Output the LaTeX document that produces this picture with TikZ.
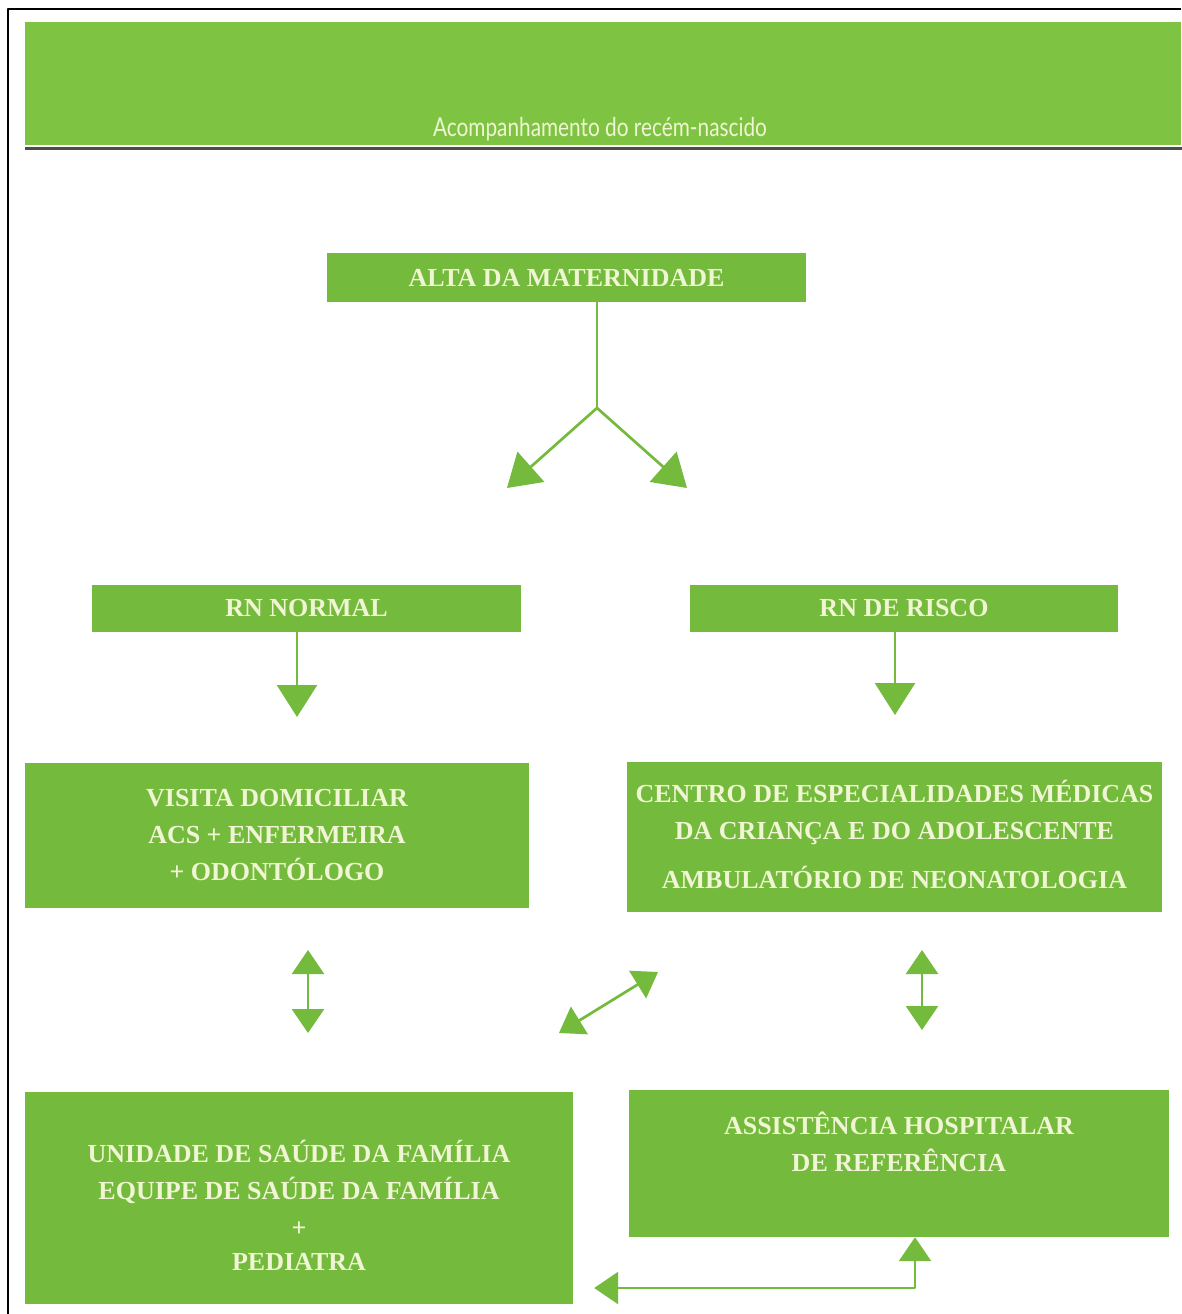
\documentclass[tikz,border=0pt]{standalone}
\usepackage{fontspec}
\setmainfont{Liberation Serif}
\newfontfamily\titulofonte[FakeStretch=0.8]{Lato}
\usetikzlibrary{arrows.meta,positioning}
\definecolor{verde}{RGB}{116,186,60}
\definecolor{verdeclaro}{RGB}{126,196,66}
\definecolor{creme}{RGB}{240,245,212}

\begin{document}
\begin{tikzpicture}[x=1pt, y=-1pt, line join=round,
  caixa/.style={fill=verde, text=creme, inner sep=0pt, align=center, font=\bfseries\fontsize{26}{37}\selectfont},
  seta/.style={draw=verde, line width=2.7pt, -{Triangle[width=40pt,length=32pt]}},
  dupla/.style={draw=verde, line width=2.7pt, {Triangle[width=32pt,length=24pt]}-{Triangle[width=32pt,length=24pt]}}]
	\useasboundingbox[fill=white] (0,0) rectangle (1181,1314);
	\draw[line width=2.5pt] (8,1314)--(8,9)--(1181,9);
	% cabecalho
	\node[fill=verdeclaro, inner sep=0pt, minimum width=1156pt, minimum height=123pt] (cabecalho) at (603,83.5) {};
	\node[text=creme, font=\titulofonte\fontsize{26}{30}\selectfont, anchor=base] (titulo) at (600,136) {Acompanhamento do recém-nascido};
	\draw[line width=3pt, black!70] ([yshift=-3pt]cabecalho.south west)--([yshift=-3pt,xshift=2pt]cabecalho.south east);
	% caixas
	\node[caixa, minimum width=479pt, minimum height=49pt] (alta) at (566.5,277.5) {ALTA DA MATERNIDADE};
	\node[caixa, minimum width=429pt, minimum height=47pt] (normal) at (306.5,608.5) {RN NORMAL};
	\node[caixa, minimum width=428pt, minimum height=47pt] (risco) at (904,608.5) {RN DE RISCO};
	\node[caixa, minimum width=504pt, minimum height=145pt, text depth=2pt] (visita) at (277,835.5) {VISITA DOMICILIAR\\ACS + ENFERMEIRA\\+ ODONTÓLOGO};
	\node[caixa, minimum width=535pt, minimum height=150pt, text depth=5pt] (centro) at (894.5,837) {CENTRO DE ESPECIALIDADES MÉDICAS\\DA CRIANÇA E DO ADOLESCENTE\\[12pt]AMBULATÓRIO DE NEONATOLOGIA};
	\node[caixa, minimum width=548pt, minimum height=212pt, text height=144pt, text depth=0pt] (unidade) at (299,1198) {UNIDADE DE SAÚDE DA FAMÍLIA\\EQUIPE DE SAÚDE DA FAMÍLIA\\+\\[-3pt]PEDIATRA};
	\node[caixa, minimum width=540pt, minimum height=147pt, text depth=44pt] (assist) at (899,1163.5) {ASSISTÊNCIA HOSPITALAR\\DE REFERÊNCIA};
	% setas
	\coordinate (juncao) at (597,408);
	\coordinate (pontaE) at (507,488);
	\coordinate (pontaD) at (687,488);
	\coordinate (pontaN) at (297,717);
	\coordinate (pontaR) at (895,715);
	\draw[verde, line width=2.7pt] (juncao |- alta.south)--(juncao);
	\draw[seta] (juncao)--(pontaE);
	\draw[seta] (juncao)--(pontaD);
	\draw[seta] (pontaN |- normal.south)--(pontaN);
	\draw[seta] (pontaR |- risco.south)--(pontaR);
	\coordinate (esqA) at (308,950);
	\coordinate (esqB) at (308,1033);
	\coordinate (diagA) at (559,1033);
	\coordinate (diagB) at (658,972);
	\coordinate (dirA) at (922,950);
	\coordinate (dirB) at (922,1030);
	\draw[dupla] (esqA)--(esqB);
	\draw[dupla] (diagA)--(diagB);
	\draw[dupla] (dirA)--(dirB);
	\coordinate (canto) at (915,1288);
	\draw[dupla] ([xshift=21pt]unidade.east |- canto)--(canto)--(canto |- assist.south);
\end{tikzpicture}
\end{document}
